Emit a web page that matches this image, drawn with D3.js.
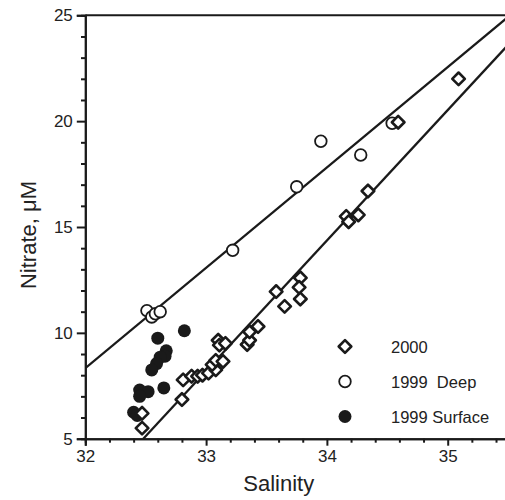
<!DOCTYPE html>
<html>
<head>
<meta charset="utf-8">
<script src="https://cdn.jsdelivr.net/npm/d3@7"></script>
<style>
  html, body { margin: 0; padding: 0; background: #fff; }
  svg { display: block; }
  text { font-family: "Liberation Sans", Arial, Helvetica, sans-serif; fill: #222; }
</style>
</head>
<body>
<script>
// Nitrate vs. salinity, three sampling groups
const data2000 = [
  [32.47, 5.5], [32.47, 6.2], [32.80, 6.85], [32.81, 7.78], [32.88, 7.95],
  [32.93, 7.95], [32.97, 8.0], [33.02, 8.1], [33.08, 8.25], [33.05, 8.5],
  [33.08, 8.7], [33.14, 8.65], [33.10, 9.65], [33.11, 9.42], [33.16, 9.5],
  [33.34, 9.45], [33.36, 9.65], [33.36, 10.05], [33.43, 10.3], [33.58, 11.95],
  [33.65, 11.25], [33.78, 12.6], [33.77, 12.15], [33.78, 11.6], [34.16, 15.5],
  [34.18, 15.25], [34.26, 15.57], [34.34, 16.7], [34.59, 19.95], [35.09, 22.0]
];
const deep1999 = [
  [32.51, 11.05], [32.55, 10.75], [32.58, 10.9], [32.62, 11.0], [33.22, 13.9],
  [33.75, 16.9], [33.95, 19.05], [34.28, 18.4], [34.54, 19.9]
];
const surface1999 = [
  [32.60, 9.75], [32.82, 10.1], [32.67, 9.15], [32.66, 8.9], [32.62, 8.85],
  [32.59, 8.55], [32.55, 8.25], [32.65, 7.4], [32.45, 7.3], [32.52, 7.22],
  [32.45, 7.0], [32.40, 6.25], [32.43, 6.1]
];
// Regression lines (salinity, nitrate end points)
const fitDeep = [[32, 8.33], [35.5, 24.92]];
const fit2000 = [[32.48, 5], [35.5, 23.6]];

const xMajor = [32, 33, 34, 35];
const yMajor = [5, 10, 15, 20, 25];
const legendItems = [
  { label: "2000", type: "diamond" },
  { label: "1999  Deep", type: "open" },
  { label: "1999 Surface", type: "filled" }
];

const W = 505, H = 500;
const svg = d3.select("body").append("svg").attr("width", W).attr("height", H);

const x = d3.scaleLinear().domain([32, 35.5]).range([85.3, 508.1]);
const y = d3.scaleLinear().domain([5, 25]).range([438.7, 15.3]);

const ink = "#1a1a1a";

// clip for plot area
svg.append("clipPath").attr("id", "plot")
  .append("rect").attr("x", x(32)).attr("y", y(25))
  .attr("width", x(35.5) - x(32)).attr("height", y(5) - y(25));

// minor tick positions
const xMinor = d3.range(32, 35.5001, 0.2).filter(v => Math.abs(v - Math.round(v)) > 1e-6);
const yMinor = d3.range(5, 25.001, 1).filter(v => v % 5 !== 0);

const xAxis = d3.axisBottom(x).tickValues(xMajor).tickFormat(d3.format("d")).tickSize(7).tickPadding(4);
const yAxis = d3.axisLeft(y).tickValues(yMajor).tickFormat(d3.format("d")).tickSize(8.5).tickPadding(4);

const gx = svg.append("g").attr("transform", `translate(0,${y(5)})`).call(xAxis);
const gxm = svg.append("g").attr("transform", `translate(0,${y(5)})`)
  .call(d3.axisBottom(x).tickValues(xMinor).tickFormat("").tickSize(4));
const gy = svg.append("g").attr("transform", `translate(${x(32)},0)`).call(yAxis);
const gym = svg.append("g").attr("transform", `translate(${x(32)},0)`)
  .call(d3.axisLeft(y).tickValues(yMinor).tickFormat("").tickSize(4.3));

[gx, gxm, gy, gym].forEach(g => {
  g.select(".domain").attr("stroke", ink).attr("stroke-width", 2);
  g.selectAll(".tick line").attr("stroke", ink).attr("stroke-width", 2);
  g.selectAll(".tick text").attr("font-size", 17).attr("fill", "#222")
    .attr("font-family", '"Liberation Sans", Arial, sans-serif');
});

// top frame
svg.append("line").attr("x1", x(32)).attr("x2", x(35.5))
  .attr("y1", y(25)).attr("y2", y(25)).attr("stroke", ink).attr("stroke-width", 2);

// axis titles
svg.append("text").attr("x", (x(32) + x(35.5)) / 2 - 18).attr("y", 491)
  .attr("text-anchor", "middle").attr("font-size", 22).text("Salinity");
svg.append("text").attr("transform", `translate(36,${(y(5) + y(25)) / 2 + 8}) rotate(-90)`)
  .attr("text-anchor", "middle").attr("font-size", 22).text("Nitrate, μM");

// regression lines
const line = d3.line().x(d => x(d[0])).y(d => y(d[1]));
const plot = svg.append("g").attr("clip-path", "url(#plot)");
[fitDeep, fit2000].forEach(f => {
  plot.append("path").attr("d", line(f)).attr("fill", "none")
    .attr("stroke", ink).attr("stroke-width", 2.3);
});

// marker drawing
const diamond = (g, cx, cy, r) => g.append("path")
  .attr("d", `M${cx},${cy - r}L${cx + r},${cy}L${cx},${cy + r}L${cx - r},${cy}Z`)
  .attr("fill", "#fff").attr("stroke", ink).attr("stroke-width", 2.6).attr("stroke-linejoin", "round");
const openCircle = (g, cx, cy) => g.append("circle").attr("cx", cx).attr("cy", cy).attr("r", 5.8)
  .attr("fill", "#fff").attr("stroke", ink).attr("stroke-width", 1.8);
const filledCircle = (g, cx, cy) => g.append("circle").attr("cx", cx).attr("cy", cy).attr("r", 6.5)
  .attr("fill", ink);

const marks = svg.append("g");
surface1999.forEach(d => filledCircle(marks, x(d[0]), y(d[1])));
deep1999.forEach(d => openCircle(marks, x(d[0]), y(d[1])));
data2000.forEach(d => diamond(marks, x(d[0]), y(d[1]), 6.3));

// legend
const lg = svg.append("g");
legendItems.forEach((it, i) => {
  const cy = 346.5 + i * 35;
  if (it.type === "diamond") diamond(lg, 345, cy, 6.3);
  else if (it.type === "open") openCircle(lg, 345, cy);
  else filledCircle(lg, 345, cy);
  lg.append("text").attr("x", 391).attr("y", cy + 6).attr("font-size", 16.5)
    .style("white-space", "pre").text(it.label);
});
</script>
</body>
</html>
